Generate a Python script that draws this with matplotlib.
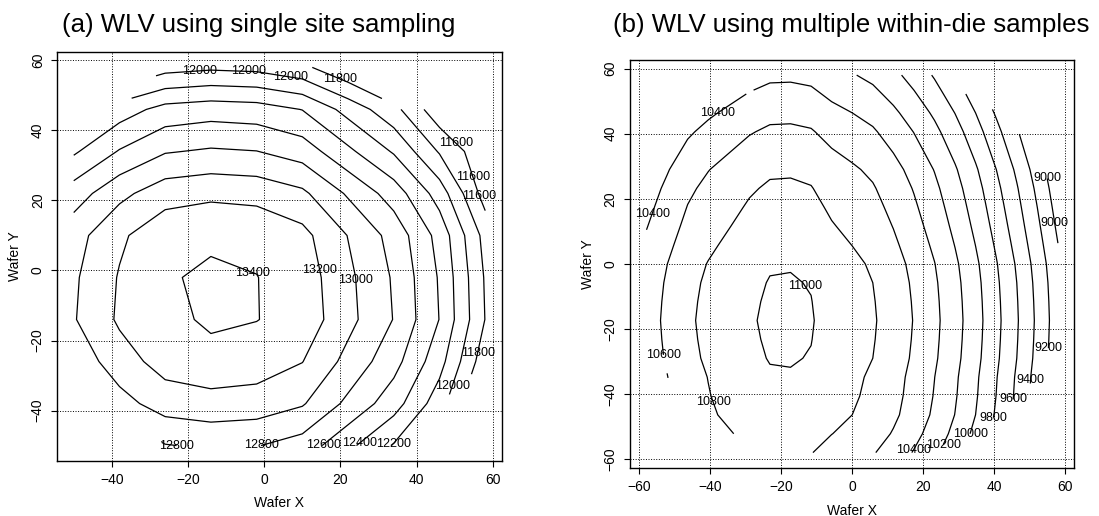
import matplotlib.pyplot as plt
import numpy as np

plt.rcParams['font.family'] = ['Liberation Sans', 'DejaVu Sans']

nan = np.nan

# (a) single site sampling: one reading per die, 12 mm die pitch
die_a = [-50, -38, -26, -14, -2, 10, 22, 34, 46, 58]
wlv_a = [
    [nan, nan, 12790, 12830, 12809, 12715, 12449, 12183, nan, nan],        # y = -50
    [nan, 12925, 13095, 13135, 13114, 13020, 12754, 12488, 12090, nan],    # y = -38
    [12865, 13110, 13280, 13320, 13299, 13205, 12939, 12673, 12275, 11675],
    [12985, 13230, 13330, 13440, 13405, 13325, 13059, 12793, 12395, 11795],
    [12970, 13215, 13385, 13425, 13404, 13310, 13044, 12778, 12380, 11780],
    [12920, 13165, 13335, 13375, 13354, 13260, 12994, 12728, 12330, 11730],
    [12700, 12945, 13115, 13155, 13134, 13040, 12774, 12508, 12110, 11510],
    [12370, 12615, 12785, 12825, 12804, 12710, 12444, 12178, 11780, 11450],
    [nan, 12300, 12470, 12510, 12489, 12395, 12129, 11863, 11465, nan],
    [nan, nan, 11925, 11965, 11944, 11850, 11620, nan, nan, nan],          # y = 58
]
levels_a = list(range(11600, 13401, 200))

# (b) multiple within-die samples: profile along X through the peak row
# and the change along Y, on a 5.8 mm grid
grid_b = np.linspace(-58, 58, 21)
wlv_b_x = [10515, 10640, 10769, 10849, 10916, 10983, 11028, 11032, 11012, 10935,
           10880, 10820, 10717, 10592, 10447, 10276, 10079, 9856, 9620, 9362, 9086]
wlv_b_dy = [-205, -132, -80, -58, -45, -20, -8, 0, -8, -20,
            -42, -82, -123, -163, -204, -255, -326, -397, -480, -573, -667]
wafer_r_b = 63
levels_b = list(range(9000, 11001, 200))

# where the contour labels sit
labels_a = {
    12000: [(-16.9, 57.7), (-4.2, 57.4), (6.8, 53.6), (49.7, -33)],
    11800: [(19, 52.2), (57.6, -23.8)],
    11600: [(49.3, 35.1), (55, 26.7), (58.1, 21.9)],
    13400: [(-2.9, 0)],
    13200: [(13.8, 0.1)],
    13000: [(25.2, -2.6)],
    12800: [(-0.7, -49.7), (-21.7, -49.7)],
    12600: [(15.5, -49.7)],
    12400: [(24.5, -48.3)],
    12200: [(34.0, -49.7)],
}
labels_b = {
    10400: [(-38.8, 47.7), (-57.8, 15.9), (16.2, -56.6)],
    10600: [(-54.3, -30)],
    10800: [(-39.7, -42.6)],
    11000: [(-12.9, -6.4)],
    9000: [(54.7, 28.5), (57.5, 12.6)],
    9200: [(55.6, -26.9)],
    9400: [(50.9, -35.6)],
    9600: [(45.3, -41.8)],
    9800: [(39.2, -47.7)],
    10000: [(32.6, -53.5)],
    10200: [(25.1, -57.6)],
}

zb = np.array(wlv_b_x, dtype=float)[None, :] + np.array(wlv_b_dy, dtype=float)[:, None]
gx, gy = np.meshgrid(grid_b, grid_b)
zb[np.hypot(gx, gy) > wafer_r_b] = nan

fig = plt.figure(figsize=(10.99, 5.16), dpi=100)
ax_a = fig.add_axes([0.0521, 0.1072, 0.4044, 0.7915])
ax_b = fig.add_axes([0.5733, 0.0936, 0.4043, 0.7901])


def style(ax, lim, ticks, xlab_y, ylab_x):
    ax.set_xlim(lim)
    ax.set_ylim(lim)
    ax.set_xticks(ticks)
    ax.set_yticks(ticks)
    ax.grid(True, color='black', linestyle=':', linewidth=0.7)
    ax.tick_params(direction='out', length=4, width=0.8, pad=5, labelsize=10,
                   color='black')
    for t in ax.get_yticklabels():
        t.set_rotation(90)
        t.set_va('center')
    for s in ax.spines.values():
        s.set_linewidth(1.0)
        s.set_color('black')
    ax.set_xlabel('Wafer X', fontsize=10, va='center')
    ax.set_ylabel('Wafer Y', fontsize=10, va='center')
    ax.xaxis.set_label_coords(0.5, xlab_y)
    ax.yaxis.set_label_coords(ylab_x, 0.5)


def draw(ax, x, y, z, levels, labs):
    z = np.ma.masked_invalid(np.array(z, dtype=float))
    # one contour set per level so each label lands on its own level
    for lev in levels:
        cs = ax.contour(x, y, z, levels=[lev], colors='black', linewidths=0.9)
        if lev in labs:
            txts = cs.clabel(manual=labs[lev], inline=False, fontsize=9,
                             fmt='%d', colors='black')
            for t in txts:
                t.set_rotation(0)


style(ax_a, (-54.32, 62.32), range(-40, 61, 20), -0.1036, -0.0952)
style(ax_b, (-62.64, 62.64), range(-60, 61, 20), -0.1055, -0.0945)

draw(ax_a, die_a, die_a, wlv_a, levels_a, labels_a)
draw(ax_b, grid_b, grid_b, zb, levels_b, labels_b)

fig.text(0.2352, 0.9525, '(a) WLV using single site sampling', fontsize=18.5,
         ha='center', va='center')
fig.text(0.7748, 0.9525, '(b) WLV using multiple within-die samples', fontsize=18.5,
         ha='center', va='center')

fig.savefig('out.png', dpi=100)
